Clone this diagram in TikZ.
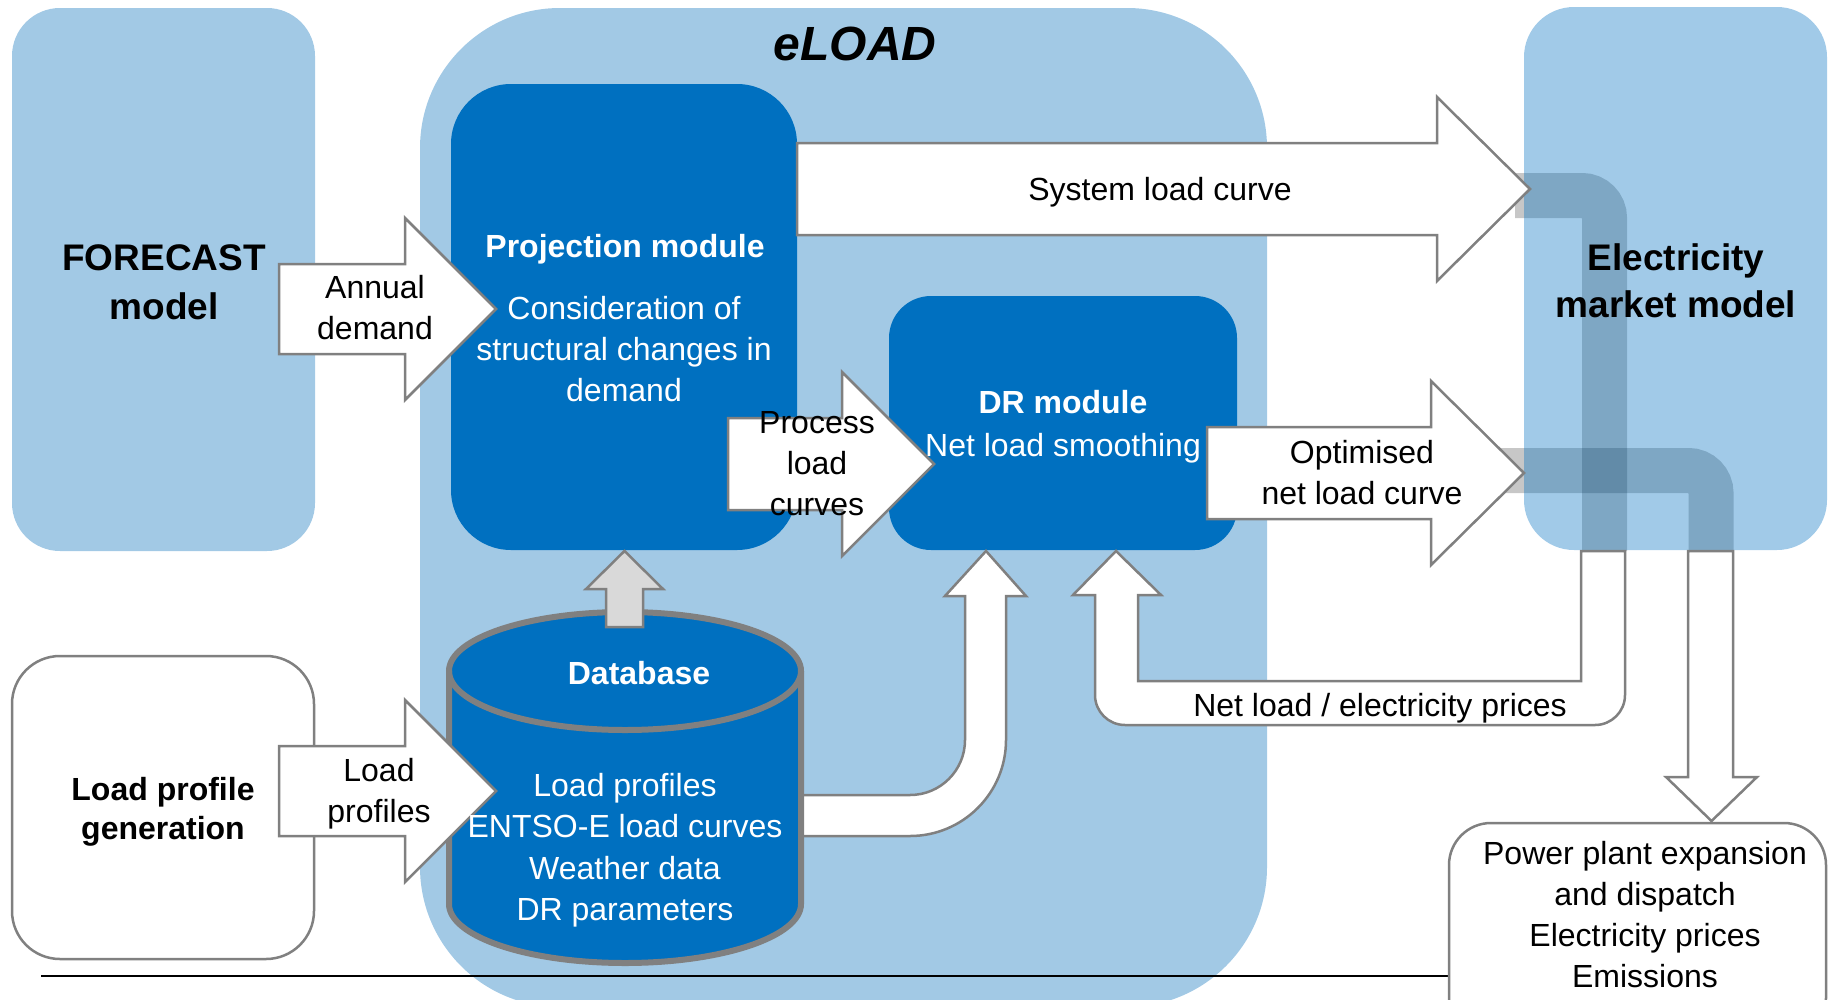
\documentclass[tikz,border=0pt]{standalone}
\usepackage{fontspec}
\setmainfont{Liberation Sans}
\definecolor{lblue}{RGB}{162,201,229}
\definecolor{dblue}{RGB}{0,112,192}
\definecolor{lgray}{RGB}{128,128,128}
\definecolor{agray}{RGB}{217,217,217}
\tikzset{
  every node/.style={inner sep=0pt, outer sep=0pt},
  txt/.style={align=center, font=\fontsize{32}{41}\selectfont},
  wtxt/.style={txt, text=white},
  wbold/.style={txt, text=white, font=\fontsize{32}{41}\selectfont\bfseries},
  headtxt/.style={align=center, font=\fontsize{37}{49}\selectfont\bfseries},
  blk/.style={fill=white, draw=lgray, line width=2.5pt, line join=miter},
  band/.style={draw=black, draw opacity=0.22, line width=45pt, rounded corners=22.5pt},
  framebox/.style={fill=white, draw=lgray, line width=2.5pt},
}
\newcommand\blkR[6]{\path[blk] (#1,#4-#5) -- (#2,#4-#5) -- (#2,#4-#6) -- (#3,#4) -- (#2,#4+#6) -- (#2,#4+#5) -- (#1,#4+#5) -- cycle;}
\begin{document}
\begin{tikzpicture}[x=1pt,y=-1pt]
\useasboundingbox (0,0) rectangle (1828,999);
% background boxes
\path[fill=lblue, rounded corners=48pt] (12,8) rectangle (315,551);
\path[fill=lblue, rounded corners=140pt] (420,8) rectangle (1267,1007);
\path[framebox, rounded corners=48pt] (12,656) rectangle (314,959);
\path[fill=dblue, rounded corners=60pt] (451,84) rectangle (797,550);
\path[fill=dblue, rounded corners=42pt] (889,296) rectangle (1237,550);
% translucent bands and market box
\draw[band] (1515,195.5) -- (1604.5,195.5) -- (1604.5,551);
\draw[band] (1500,470.5) -- (1711,470.5) -- (1711,551);
\path[fill=dblue, fill opacity=0.37, rounded corners=50pt] (1524,7) rectangle (1827,550);
% database -> DR arrow
\path[blk] (801,795) -- (910,795) .. controls (940.4,795) and (965,770.4) .. (965,740)
  -- (965,596) -- (945,596) -- (986,551) -- (1026,596) -- (1006,596) -- (1006,740)
  .. controls (1006,793) and (963,836) .. (910,836) -- (801,836) -- cycle;
% feedback arrow
\path[blk] (1625,551) -- (1581,551) -- (1581,681) -- (1138,681) -- (1138,595) -- (1161,595)
  -- (1116,551) -- (1073,595) -- (1095,595) -- (1095,695)
  .. controls (1095,711.6) and (1108.4,725) .. (1125,725) -- (1595,725)
  .. controls (1611.6,725) and (1625,711.6) .. (1625,695) -- cycle;
% down arrow to output
\path[blk] (1688,551) -- (1688,777) -- (1666,777) -- (1711.5,821) -- (1757,777) -- (1733,777) -- (1733,551) -- cycle;
% right arrows
\blkR{279}{405}{496}{309}{45}{91}
\blkR{728}{842}{934}{464}{46}{92}
\blkR{797}{1437}{1530}{189}{46}{92}
\blkR{1207}{1431}{1524}{473}{46}{92}
% database cylinder
\path[fill=dblue, draw=lgray, line width=6pt]
  (449,671) -- (449,904) .. controls (449,936.6) and (527.8,963) .. (625,963)
  .. controls (722.2,963) and (801,936.6) .. (801,904) -- (801,671)
  .. controls (801,638.4) and (722.2,612) .. (625,612)
  .. controls (527.8,612) and (449,638.4) .. (449,671) -- cycle;
\draw[lgray, line width=6pt] (449,671) .. controls (449,703.6) and (527.8,730) .. (625,730)
  .. controls (722.2,730) and (801,703.6) .. (801,671);
\blkR{279}{405}{496}{791}{45}{91}
% gray arrow database -> projection
\path[blk, fill=agray] (606,627) -- (606,589) -- (586,589) -- (624.5,551) -- (663,589) -- (643,589) -- (643,627) -- cycle;
% rule line
\draw[black, line width=1.5pt] (41,976) -- (1449,976);
% output box
\path[framebox, rounded corners=42pt] (1449,823) rectangle (1826,1040);
% texts
\node[headtxt] (fc) at (164,282) {FORECAST\\model};
\node[txt, font=\fontsize{32}{39}\selectfont\bfseries] (lpg) at (163,812) {Load profile\\generation};
\node[font=\fontsize{48}{58}\selectfont\bfseries\itshape] (eload) at (855,44) {eLOAD};
\node[wbold] (projh) at (625,249) {Projection module};
\node[wtxt] (projb) at (624,349) {Consideration of\\structural changes in\\demand};
\node[wbold] (drh) at (1063,402) {DR module};
\node[wtxt] (drb) at (1063,448) {Net load smoothing};
\node[txt] (annual) at (375,308) {Annual\\demand};
\node[txt] (lpa) at (379,794) {Load\\profiles};
\node[txt] (proc) at (817,464) {Process\\load\\curves};
\node[txt] (sys) at (1160,192) {System load curve};
\node[txt] (opt) at (1362,473) {Optimised\\net load curve};
\node[txt] (fb) at (1380,708) {Net load / electricity prices};
\node[headtxt, font=\fontsize{37}{47}\selectfont\bfseries] (mkt) at (1676,281) {Electricity\\market model};
\node[wbold] (dbh) at (639,673) {Database};
\node[wtxt, font=\fontsize{32}{41.5}\selectfont] (dbb) at (625,850) {Load profiles\\ENTSO-E load curves\\Weather data\\DR parameters};
\node[txt] (out) at (1645,915) {Power plant expansion\\and dispatch\\Electricity prices\\Emissions};
\end{tikzpicture}
\end{document}
